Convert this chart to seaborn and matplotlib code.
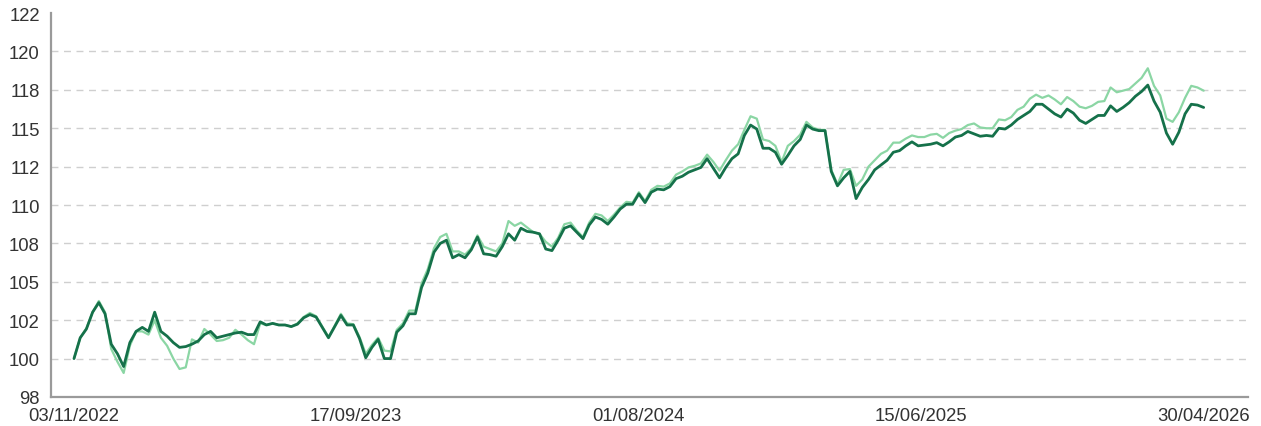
import pandas as pd
import numpy as np
import seaborn as sns
import matplotlib.pyplot as plt

# --- weekly values (base 100) ---
start_date = "2022-11-03"

dark_values = [
    100.0, 101.3, 101.85, 102.9, 103.5, 102.8, 100.9, 100.3, 99.5, 101.0,
    101.7, 101.95, 101.7, 102.9, 101.7, 101.4, 101.0, 100.7, 100.75, 100.9,
    101.1, 101.5, 101.7, 101.3, 101.4, 101.5, 101.6, 101.65, 101.5, 101.5,
    102.3, 102.1, 102.2, 102.1, 102.1, 102.0, 102.15, 102.55, 102.75, 102.6,
    101.95, 101.3, 102.0, 102.7, 102.1, 102.1, 101.25, 100.05, 100.7, 101.2,
    100.0, 100.0, 101.65, 102.05, 102.8, 102.8, 104.45, 105.35, 106.65, 107.2,
    107.4, 106.3, 106.5, 106.3, 106.8, 107.6, 106.55, 106.5, 106.4, 107.0,
    107.8, 107.4, 108.15, 107.95, 107.9, 107.8, 106.85, 106.75, 107.4, 108.15,
    108.3, 107.9, 107.5, 108.35, 108.85, 108.7, 108.4, 108.85, 109.35, 109.65,
    109.65, 110.3, 109.75, 110.4, 110.6, 110.55, 110.75, 111.25, 111.4, 111.65,
    111.8, 111.95, 112.5, 111.9, 111.3, 111.95, 112.5, 112.8, 113.95, 114.6,
    114.35, 113.15, 113.15, 112.9, 112.15, 112.7, 113.3, 113.7, 114.6, 114.35,
    114.25, 114.25, 111.7, 110.8, 111.3, 111.7, 110.0, 110.7, 111.2, 111.8,
    112.1, 112.4, 112.9, 113.0, 113.3, 113.55, 113.3, 113.35, 113.4, 113.5,
    113.3, 113.55, 113.85, 113.95, 114.2, 114.05, 113.9, 113.95, 113.9, 114.4,
    114.35, 114.6, 114.95, 115.2, 115.45, 115.9, 115.9, 115.6, 115.3, 115.1,
    115.6, 115.35, 114.9, 114.7, 114.95, 115.2, 115.2, 115.8, 115.45, 115.7,
    116.0, 116.4, 116.7, 117.1, 116.1, 115.4, 114.1, 113.4, 114.15, 115.3,
    115.9, 115.85, 115.7,
]

light_values = [
    100.0, 101.3, 101.9, 102.9, 103.6, 102.9, 100.6, 99.8, 99.1, 100.8,
    101.7, 101.7, 101.5, 102.4, 101.3, 100.8, 100.0, 99.35, 99.45, 101.2,
    101.0, 101.85, 101.5, 101.1, 101.15, 101.3, 101.8, 101.5, 101.15, 100.9,
    102.2, 102.1, 102.2, 102.1, 102.1, 102.0, 102.2, 102.6, 102.85, 102.65,
    102.0, 101.35, 102.05, 102.8, 102.2, 102.15, 101.35, 100.3, 100.85, 101.3,
    100.5, 100.45, 101.8, 102.2, 103.0, 103.0, 104.7, 105.6, 106.9, 107.6,
    107.8, 106.7, 106.7, 106.5, 106.9, 107.7, 107.0, 106.85, 106.7, 107.2,
    108.6, 108.3, 108.5, 108.2, 107.9, 107.8, 107.3, 107.0, 107.55, 108.4,
    108.5, 108.0, 107.6, 108.5, 109.05, 108.95, 108.6, 109.0, 109.45, 109.8,
    109.75, 110.4, 109.85, 110.55, 110.8, 110.75, 110.95, 111.5, 111.7, 111.95,
    112.05, 112.2, 112.75, 112.3, 111.75, 112.4, 113.0, 113.4, 114.3, 115.15,
    115.0, 113.7, 113.6, 113.3, 112.3, 113.3, 113.6, 114.0, 114.8, 114.45,
    114.3, 114.3, 111.8, 110.9, 111.8, 111.85, 110.8, 111.2, 112.0, 112.4,
    112.8, 113.0, 113.5, 113.5, 113.75, 113.95, 113.85, 113.85, 114.0, 114.05,
    113.8, 114.1, 114.25, 114.35, 114.6, 114.7, 114.45, 114.4, 114.4, 114.95,
    114.9, 115.1, 115.55, 115.75, 116.25, 116.5, 116.3, 116.45, 116.2, 115.9,
    116.35, 116.1, 115.75, 115.65, 115.8, 116.05, 116.1, 116.95, 116.65, 116.75,
    116.85, 117.2, 117.55, 118.15, 117.05, 116.45, 115.0, 114.8, 115.4, 116.3,
    117.05, 116.95, 116.75,
]

tick_dates = ["2022-11-03", "2023-09-17", "2024-08-01", "2025-06-15", "2026-04-30"]
y_tick_labels = ["98", "100", "102", "105", "108", "110", "112", "115", "118", "120", "122"]

dates = pd.date_range(start_date, periods=len(dark_values), freq="7D")
df = pd.concat([
    pd.DataFrame({"date": dates, "value": light_values, "serie": "light"}),
    pd.DataFrame({"date": dates, "value": dark_values, "serie": "dark"}),
])

sns.set_style("white")
plt.rcParams["font.family"] = ["Liberation Sans", "DejaVu Sans"]

fig = plt.figure(figsize=(12.61, 4.27), dpi=100)
ax = fig.add_axes([0.0404, 0.068, 0.9493, 0.899])

sns.lineplot(data=df, x="date", y="value", hue="serie", hue_order=["light", "dark"],
             palette={"light": "#8bd6a4", "dark": "#15714a"}, legend=False, ax=ax,
             estimator=None)
lines = ax.get_lines()
lines[0].set_linewidth(1.6)
lines[1].set_linewidth(2.0)

# axes ranges
ax.set_xlim(pd.Timestamp("2022-10-08"), pd.Timestamp("2026-06-19"))
y_ticks = np.linspace(97.6, 121.6, 11)
ax.set_ylim(y_ticks[0], y_ticks[-1])
ax.set_yticks(y_ticks)
ax.set_yticklabels(y_tick_labels)
ax.set_xticks(pd.to_datetime(tick_dates))
ax.set_xticklabels(pd.to_datetime(tick_dates).strftime("%d/%m/%Y"))

for yv in y_ticks[1:-1]:
    ax.axhline(yv, color="#cfcfcf", lw=1.0, ls=(0, (5, 4)), zorder=0)

ax.set_xlabel("")
ax.set_ylabel("")
for side in ["top", "right"]:
    ax.spines[side].set_visible(False)
for side in ["left", "bottom"]:
    ax.spines[side].set_color("#9a9a9a")
    ax.spines[side].set_linewidth(1.6)

ax.tick_params(axis="both", which="major", length=5, width=1.3, color="#9a9a9a",
               labelsize=13.3, labelcolor="#333333", direction="out")
ax.tick_params(axis="y", pad=3)
ax.tick_params(axis="x", pad=2)

plt.savefig("out.png", dpi=100)
